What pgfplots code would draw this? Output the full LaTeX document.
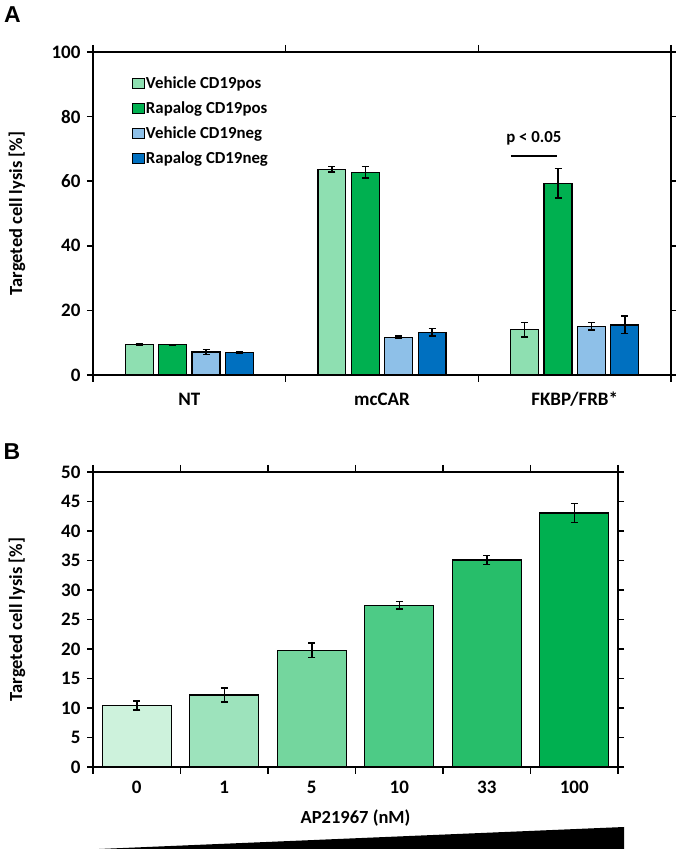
\documentclass[border=0pt]{standalone}
\usepackage{pgfplots}
\pgfplotsset{compat=1.18}
\usepackage{fontspec}
\setmainfont{Carlito}
\newfontfamily\arialfont{Liberation Sans}
\definecolor{vpos}{HTML}{8EDFB1}
\definecolor{rpos}{HTML}{00B050}
\definecolor{vneg}{HTML}{8EC0E8}
\definecolor{rneg}{HTML}{0070C0}
\definecolor{bA}{HTML}{CDF2DC}
\definecolor{bB}{HTML}{9DE3BC}
\definecolor{bC}{HTML}{74D69E}
\definecolor{bD}{HTML}{4DCB86}
\definecolor{bE}{HTML}{27BE6A}
\definecolor{bF}{HTML}{00B050}
\newcommand{\tkl}{\bfseries\fontsize{19}{22}\selectfont}
\newcommand{\lbl}{\bfseries\fontsize{18.5}{22}\selectfont}
\newcommand{\lgd}{\bfseries\fontsize{16.8}{19}\selectfont}
\pgfplotsset{
  common/.style={
    scale only axis,
    axis line style={line width=1.6pt},
    tick align=outside,
    major tick length=6pt,
    minor tick length=7pt,
    every tick/.style={line width=1.6pt, black},
    major x tick style={draw=none},
    tick label style={font=\tkl},
    /pgf/number format/assume math mode=true,
    yticklabel style={xshift=-3pt},
    every axis y label/.style={at={(rel axis cs:0,0.5)}, xshift=-76pt, rotate=90, anchor=center, font=\lbl},
    ylabel={Targeted cell lysis [\%]},
    ybar,
    every axis plot/.append style={draw=black, line width=1.2pt},
    error bars/y dir=both,
    error bars/y explicit,
    error bars/error bar style={line width=1.5pt, black},
    error bars/error mark options={rotate=90, mark size=3.5pt, line width=1.5pt, black},
  }
}
\begin{document}
\begin{tikzpicture}
\useasboundingbox (0pt,0pt) rectangle (675pt,851pt);
\node[font=\arialfont\bfseries\fontsize{23}{26}\selectfont] at (12.5pt,836pt) {A};
\node[font=\arialfont\bfseries\fontsize{23}{26}\selectfont] at (12pt,399pt) {B};

\begin{axis}[common,
  at={(93pt,476pt)}, anchor=south west,
  width=578pt, height=323pt,
  xmin=-0.5, xmax=2.5, ymin=0, ymax=100,
  ytick={0,20,...,100},
  xtick={0,1,2}, xticklabels={NT,mcCAR,FKBP/FRB*},
  minor xtick={-0.5,0.5,1.5,2.5},
  xticklabel style={anchor=center, yshift=-18pt},
  bar width=0.145,
  legend style={at={(rel axis cs:0.0666,0.928)}, anchor=north west, draw=none, fill=none, font=\lgd, row sep=8.6pt, inner sep=0pt, nodes={inner sep=1.5pt}},
  legend cell align=left,
  legend image code/.code={\draw[#1,draw=black,line width=0.8pt] (0pt,-5pt) rectangle (12pt,5pt);},
]
\addplot[fill=vpos, bar shift=-0.26] coordinates {(0,9.5) +- (0,0.3) (1,63.7) +- (0,0.8) (2,14.0) +- (0,2.2)};
\addplot[fill=rpos, bar shift=-0.0865] coordinates {(0,9.4) +- (0,0.1) (1,62.8) +- (0,1.8) (2,59.4) +- (0,4.6)};
\addplot[fill=vneg, bar shift=0.0865] coordinates {(0,7.1) +- (0,0.8) (1,11.7) +- (0,0.3) (2,15.1) +- (0,1.2)};
\addplot[fill=rneg, bar shift=0.26] coordinates {(0,7.0) +- (0,0.3) (1,13.2) +- (0,1.2) (2,15.5) +- (0,2.7)};
\legend{Vehicle CD19pos,Rapalog CD19pos,Vehicle CD19neg,Rapalog CD19neg}
\draw[line width=1.5pt] (axis cs:1.669,67.8) -- (axis cs:1.908,67.8);
\node[font=\lgd] at (axis cs:1.788,73.2) {p < 0.05};
\end{axis}

\begin{axis}[common,
  at={(93pt,84pt)}, anchor=south west,
  width=525pt, height=295pt,
  xmin=-0.5, xmax=5.5, ymin=0, ymax=50,
  ytick={0,5,...,50},
  xtick={0,1,2,3,4,5}, xticklabels={0,1,5,10,33,100},
  minor xtick={-0.5,0.5,1.5,2.5,3.5,4.5,5.5},
  xticklabel style={anchor=center, yshift=-14pt},
  bar width=0.79, bar shift=0,
  xlabel={AP21967 (nM)},
  every axis x label/.style={at={(rel axis cs:0.5,0)}, yshift=-51pt, anchor=center, font=\lbl},
]
\addplot[fill=bA] coordinates {(0,10.45) +- (0,0.75)};
\addplot[fill=bB] coordinates {(1,12.2) +- (0,1.15)};
\addplot[fill=bC] coordinates {(2,19.8) +- (0,1.25)};
\addplot[fill=bD] coordinates {(3,27.4) +- (0,0.65)};
\addplot[fill=bE] coordinates {(4,35.1) +- (0,0.75)};
\addplot[fill=bF] coordinates {(5,43.05) +- (0,1.6)};
\end{axis}
\fill[black] (99pt,2pt) -- (624pt,2pt) -- (624pt,24pt) -- cycle;
\end{tikzpicture}
\end{document}
